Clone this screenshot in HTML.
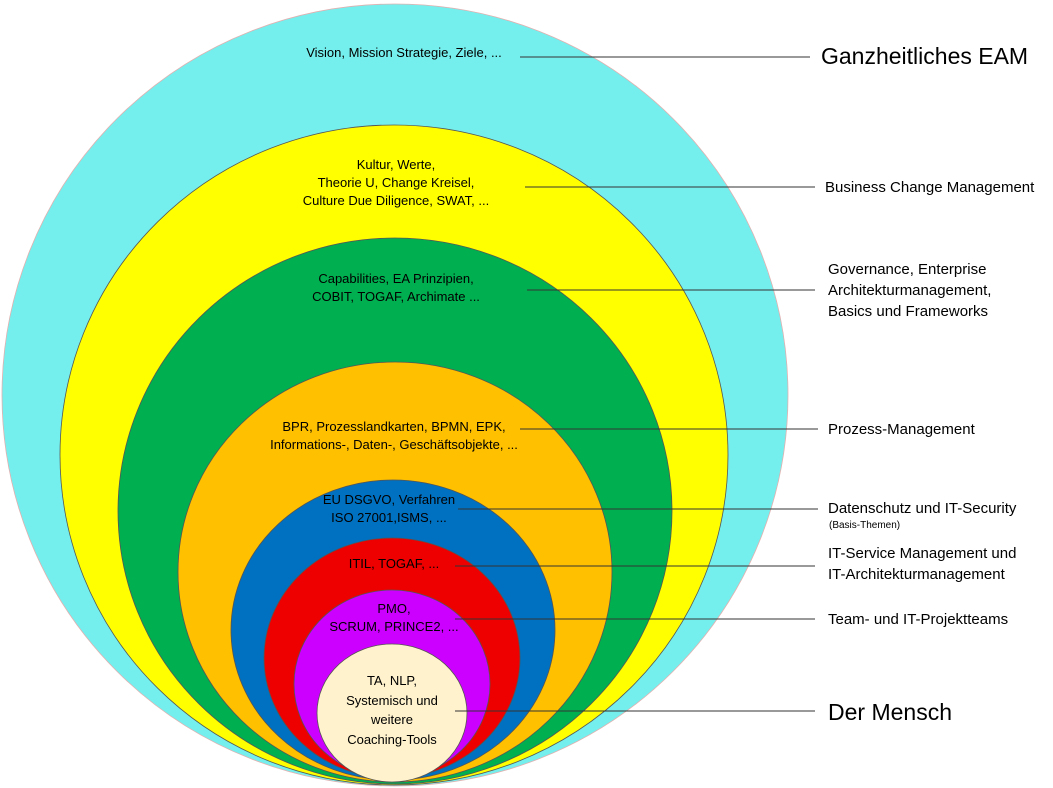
<!DOCTYPE html>
<html><head><meta charset="utf-8"><style>
body{margin:0;width:1053px;height:788px;background:#fff;overflow:hidden;font-family:"Liberation Sans",sans-serif;}
.t{position:absolute;text-align:center;font-size:13px;line-height:18px;color:#000;transform:translateX(-50%);white-space:nowrap}
.l{position:absolute;font-size:15px;line-height:21px;color:#000;white-space:nowrap}
</style></head><body>
<svg width="1053" height="788" style="position:absolute;left:0;top:0">
<g stroke="#555" stroke-width="0.8">
<ellipse cx="395" cy="395" rx="393" ry="391" fill="#75EFED" stroke="#e0b0b0"/>
<ellipse cx="394" cy="455" rx="334" ry="330" fill="#FFFF00"/>
<ellipse cx="395" cy="511" rx="277" ry="273" fill="#00B050"/>
<ellipse cx="395" cy="572" rx="217" ry="210" fill="#FFC000"/>
<ellipse cx="393" cy="630" rx="162" ry="150" fill="#0070C0"/>
<ellipse cx="392" cy="658" rx="128" ry="120" fill="#EE0000"/>
<ellipse cx="392" cy="684" rx="98" ry="94" fill="#CC00FF"/>
<ellipse cx="392" cy="713" rx="75" ry="69" fill="#FFF2CC"/>
</g>
<g stroke="#333" stroke-width="1">
<line x1="520" y1="57" x2="810" y2="57"/>
<line x1="525" y1="187" x2="815" y2="187"/>
<line x1="527" y1="290" x2="815" y2="290"/>
<line x1="520" y1="429" x2="818" y2="429"/>
<line x1="458" y1="509" x2="818" y2="509"/>
<line x1="455" y1="566" x2="815" y2="566"/>
<line x1="455" y1="619" x2="815" y2="619"/>
<line x1="455" y1="711" x2="815" y2="711"/>
</g>
</svg>
<div class="t" style="left:404px;top:44px">Vision, Mission Strategie, Ziele, ...</div>
<div class="t" style="left:396px;top:156px">Kultur, Werte,<br>Theorie U, Change Kreisel,<br>Culture Due Diligence, SWAT, ...</div>
<div class="t" style="left:396px;top:270px">Capabilities, EA Prinzipien,<br>COBIT, TOGAF, Archimate ...</div>
<div class="t" style="left:394px;top:418px">BPR, Prozesslandkarten, BPMN, EPK,<br>Informations-, Daten-, Geschäftsobjekte, ...</div>
<div class="t" style="left:389px;top:491px">EU DSGVO, Verfahren<br>ISO 27001,ISMS, ...</div>
<div class="t" style="left:394px;top:555px">ITIL, TOGAF, ...</div>
<div class="t" style="left:394px;top:600px">PMO,<br>SCRUM, PRINCE2, ...</div>
<div class="t" style="left:392px;top:671px;line-height:19.5px">TA, NLP,<br>Systemisch und<br>weitere<br>Coaching-Tools</div>
<div class="l" style="left:821px;top:42px;font-size:23px;line-height:28px">Ganzheitliches EAM</div>
<div class="l" style="left:825px;top:177px">Business Change Management</div>
<div class="l" style="left:828px;top:259px">Governance, Enterprise<br>Architekturmanagement,<br>Basics und Frameworks</div>
<div class="l" style="left:828px;top:419px">Prozess-Management</div>
<div class="l" style="left:828px;top:498px">Datenschutz und IT-Security</div>
<div class="l" style="left:829px;top:519px;font-size:10px;line-height:14px">(Basis-Themen)</div>
<div class="l" style="left:828px;top:543px">IT-Service Management und<br>IT-Architekturmanagement</div>
<div class="l" style="left:828px;top:609px">Team- und IT-Projektteams</div>
<div class="l" style="left:828px;top:698px;font-size:23px;line-height:28px">Der Mensch</div>
</body></html>
